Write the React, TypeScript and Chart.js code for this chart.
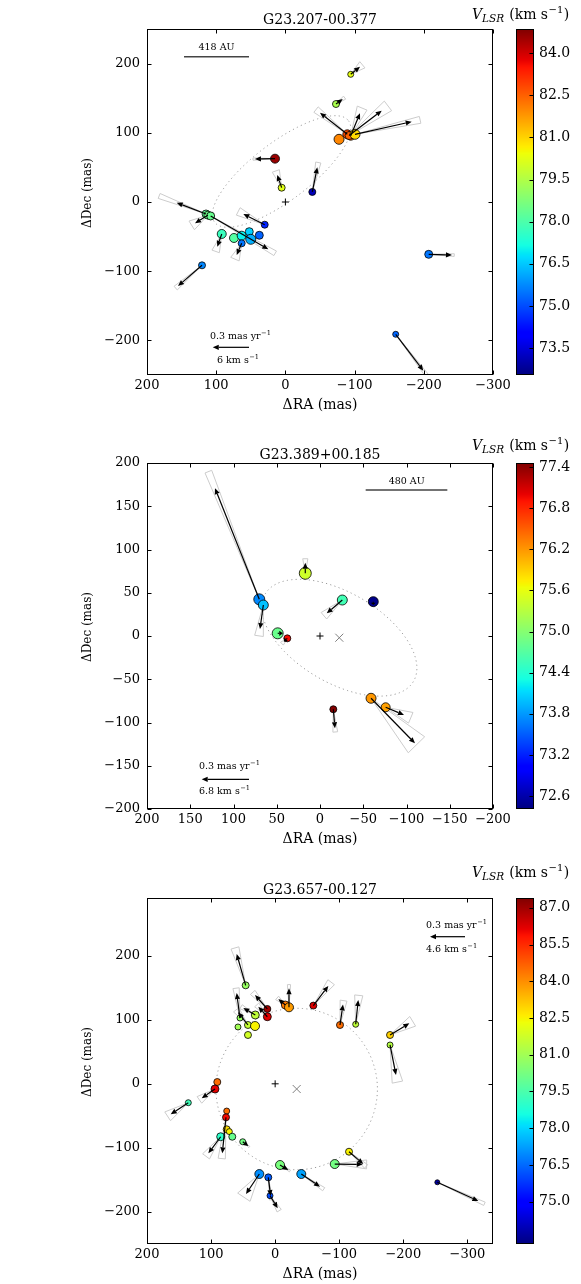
import React, { useEffect, useRef } from "react";
import { Chart, registerables } from "chart.js";
Chart.register(...registerables);

const SERIF = "'DejaVu Serif', 'Liberation Serif', serif";

// ---------------- Panel 1: G23.207-00.377 ----------------
const p1Title = "G23.207-00.377";
const p1XRange = [-300, 200];
const p1YRange = [-250, 250];
const p1XTicks = [200, 100, 0, -100, -200, -300];
const p1YTicks = [200, 100, 0, -100, -200];
const p1CbRange = [72.54, 84.86];
const p1CbTicks = [73.5, 75.0, 76.5, 78.0, 79.5, 81.0, 82.5, 84.0];
const p1X = [-94.4, -73.1, -77.5, -89.5, -94.4, -92, -100.6, 15, 5.4, -38.9, 29.9, 114.7, 112, 108, 92, 74.3, 63.2, 52.2, 50.1, 63.2, 37.7, 120.5, -207.1, -159.4];
const p1Y = [184.5, 141.6, 90.6, 97.8, 95.8, 96, 97.8, 62.6, 20.7, 14.5, -32.8, -17.3, -19, -20.2, -46.2, -52, -48.7, -42.9, -53.9, -59.7, -48.1, -91.5, -75.6, -191.2];
const p1V = [80.3, 79.4, 82.0, 82.8, 82.15, 82.5, 80.9, 84.6, 80.2, 73.15, 74.5, 78.3, 78.5, 78.4, 77.7, 78.1, 77.0, 76.6, 76.2, 75.5, 75.25, 75.7, 75.5, 75.3];
const p1R = [3, 3.5, 5, 4.5, 4.5, 4, 5, 4.5, 3.5, 3.5, 3.5, 4, 4, 4, 4.5, 4.5, 4.5, 4, 5, 3.5, 4, 3.5, 4, 3];
const p1Dx = [-13.4, -9.7, 0, 39.5, -13.4, -47.2, -81.9, 29, 6.4, -7.2, 30.9, 42.4, 18.6, -83.3, 6.4, 0, 0, 0, 0, 7.2, 0, 34.7, -33.6, -39.9];
const p1Dy = [11, 7.2, 0, 31.2, 32.4, 36, 18.2, -0.5, 18.3, 35.6, 15.5, 16.3, -11.8, -48.2, -18.4, 0, 0, 0, 0, -16.9, 0, -30, -1, -52.6];
const p1Cone = [15, 10, 0, 5, 10, 7, 3, 3, 12, 5, 8, 3, 15, 2, 12, 0, 0, 0, 0, 15, 0, 4, 3, 2];
const p1ConeK = [1.3, 1.3, 1, 1.15, 1.25, 1.2, 1.15, 1.1, 1.35, 1.2, 1.25, 1.6, 1.3, 1.12, 1.4, 1, 1, 1, 1, 1.4, 1, 1.1, 1.1, 1.15];
const p1Ellipse = [5.6, 44.1, 121.4, 41.9, 142.8];
const p1MarkX = [0];
const p1MarkY = [0];
const p1MarkType = ["+"];
const p1Bar = [146.5, 52.6, 210];
const p1BarLabel = "418 AU";
const p1BarLabelPos = [99.5, 219];
const p1PmArrow = [52.6, 105, -210];
const p1PmText1 = [109, -198];
const p1PmText2 = [98.8, -232.6];
const p1PmLabel1 = "0.3 mas yr";
const p1PmLabel2 = "6 km s";

// ---------------- Panel 2: G23.389+00.185 ----------------
const p2Title = "G23.389+00.185";
const p2XRange = [-200, 200];
const p2YRange = [-200, 200];
const p2XTicks = [200, 150, 100, 50, 0, -50, -100, -150, -200];
const p2YTicks = [200, 150, 100, 50, 0, -50, -100, -150, -200];
const p2CbRange = [72.41, 77.46];
const p2CbTicks = [72.6, 73.2, 73.8, 74.4, 75.0, 75.6, 76.2, 76.8, 77.4];
const p2X = [70.2, 65.5, 17, -25.8, -61.6, 48.9, 37.8, -59, -75.9, -15.4];
const p2Y = [42.4, 35.8, 72.5, 41.6, 39.7, 3.1, -2.7, -72, -82.4, -84.7];
const p2V = [73.72, 74.0, 75.44, 74.58, 72.45, 74.83, 76.95, 76.2, 76.15, 77.45];
const p2R = [5.5, 5, 6, 5, 5, 5.5, 3.5, 5, 4.5, 3.5];
const p2Dx = [51.2, 3.9, 0, 18, 0, -6, 4, -50.8, -21.2, -1.9];
const p2Dy = [128.4, -27.7, 12.2, -15.4, -4, 0, -4, -52, -8.9, -22];
const p2Cone = [1.5, 8, 10, 10, 0, 0, 15, 10, 12, 6];
const p2ConeK = [1.15, 1.3, 1.4, 1.2, 1, 1, 1.6, 1.05, 1.4, 1.2];
const p2Ellipse = [-22.3, -2, 99.5, 52, 30.5];
const p2MarkX = [0, -22.3];
const p2MarkY = [0, -2];
const p2MarkType = ["+", "x"];
const p2Bar = [-52.8, -147.2, 168.8];
const p2BarLabel = "480 AU";
const p2BarLabelPos = [-100.2, 175.7];
const p2PmArrow = [82.1, 136.8, -165.7];
const p2PmText1 = [139.9, -154.3];
const p2PmText2 = [139.9, -183.2];
const p2PmLabel1 = "0.3 mas yr";
const p2PmLabel2 = "6.8 km s";

// ---------------- Panel 3: G23.657-00.127 ----------------
const p3Title = "G23.657-00.127";
const p3XRange = [-340, 200];
const p3YRange = [-250, 290];
const p3XTicks = [200, 100, 0, -100, -200, -300];
const p3YTicks = [200, 100, 0, -100, -200];
const p3CbRange = [73.27, 87.4];
const p3CbTicks = [75.0, 76.5, 78.0, 79.5, 81.0, 82.5, 84.0, 85.5, 87.0];
const p3X = [46, 12.2, 12.2, 31, -15.9, -21.6, -59.6, -101.2, -125.7, -179.3, -179.3, 54.9, 58, 42.4, 31.4, 42.4, 90.3, 93.9, 135.5, 75.6, 76.7, 75.6, 71.5, 85, 66.9, 50.6, -7.6, 24.7, 10.7, 8, -40.8, -93, -115.3, -253.1];
const p3Y = [153.7, 116.8, 104.7, 107.4, 123, 119.4, 122.1, 91.8, 92.9, 76.2, 60.6, 102.7, 88.7, 91.8, 90.2, 76.2, 2.8, -8.1, -29.5, -42.5, -52.3, -71, -74.6, -82.6, -82.6, -90.4, -126.7, -140.8, -146, -174.6, -140.8, -125.2, -106, -153.7];
const p3V = [80.8, 87.0, 86.2, 81.5, 84.3, 83.8, 86.3, 84.5, 81.5, 83.0, 81.3, 80.8, 81.0, 81.6, 82.5, 81.8, 84.5, 86.2, 79.3, 84.5, 86.0, 82.8, 82.5, 79.0, 80.0, 80.2, 80.3, 77.0, 76.3, 76.1, 77.3, 80.2, 82.5, 73.6];
const p3R = [3.5, 3.5, 4, 4, 4, 4.5, 3.5, 3.5, 3, 3.5, 3, 3, 3, 3.5, 4.5, 3.5, 3.5, 4, 3, 3, 3.5, 3.5, 3, 4, 3.5, 3, 4.5, 4.5, 3.5, 3, 4.5, 4.5, 3.5, 2.5];
const p3Dx = [14, 19.2, 14, 18.7, 10.9, 0, -23.4, -4.7, -4, -30.1, -9.3, 5.1, 0, 15.6, 0, 0, 0, 20.7, 27.5, 0, 5.8, 0, 0, 19.3, 0, -8.7, -13, 20.8, -3.7, -12, -29.2, -43.7, -22.3, -64];
const p3Dy = [48.9, 21.8, 15.6, 10.9, 9.4, 29.6, 30.7, 32, 38, 18.2, -46.8, 39, 0, 20, 0, 0, 0, -14.5, -18.1, 0, -56.2, 0, 0, -25.9, 0, -6.8, -7.8, -31.2, -29.2, -19.7, -19.8, -0.5, -19.2, -29.2];
const p3Cone = [6, 8, 10, 8, 12, 4, 8, 8, 8, 12, 8, 6, 0, 10, 0, 0, 0, 12, 12, 0, 5, 0, 0, 10, 0, 5, 5, 15, 4, 8, 4, 8, 6, 2];
const p3ConeK = [1.2, 1.2, 1.2, 1.2, 1.2, 1.2, 1.2, 1.2, 1.2, 1.2, 1.25, 1.2, 1, 1.2, 1, 1, 1, 1.2, 1.2, 1, 1.15, 1, 1, 1.2, 1, 1.2, 1.2, 1.2, 1.2, 1.2, 1.2, 1.15, 1.2, 1.15];
const p3Ellipse = [-33.6, -8.1, 126, 126, 0];
const p3MarkX = [0, -33.6];
const p3MarkY = [0, -8.1];
const p3MarkType = ["+", "x"];
const p3PmArrow = [-296.3, -241.7, 229.6];
const p3PmText1 = [-235.5, 243.6];
const p3PmText2 = [-235.5, 206.2];
const p3PmLabel1 = "0.3 mas yr";
const p3PmLabel2 = "4.6 km s";

// ---------------- helpers ----------------
const JR = [[0, 0], [0.35, 0], [0.66, 1], [0.89, 1], [1, 0.5]];
const JG = [[0, 0], [0.125, 0], [0.375, 1], [0.64, 1], [0.91, 0], [1, 0]];
const JB = [[0, 0.5], [0.11, 1], [0.34, 1], [0.65, 0], [1, 0]];
function seg(pts: number[][], t: number) {
  for (let i = 0; i < pts.length - 1; i++) {
    const [a, va] = pts[i];
    const [b, vb] = pts[i + 1];
    if (t <= b) return va + ((t - a) / (b - a)) * (vb - va);
  }
  return pts[pts.length - 1][1];
}
function jet(t: number) {
  const c = Math.max(0, Math.min(1, t));
  const r = Math.round(255 * seg(JR, c));
  const g = Math.round(255 * seg(JG, c));
  const b = Math.round(255 * seg(JB, c));
  return `rgb(${r},${g},${b})`;
}
const fmtInt = (v: number) => (v < 0 ? "\u2212" + Math.abs(v) : String(v));

function drawArrow(ctx: CanvasRenderingContext2D, x0: number, y0: number, x1: number, y1: number) {
  const dx = x1 - x0, dy = y1 - y0;
  const L = Math.hypot(dx, dy);
  if (L < 0.5) return;
  const ux = dx / L, uy = dy / L;
  const hl = Math.min(6, L * 0.7);
  const hw = 2.6;
  const bx = x1 - ux * hl, by = y1 - uy * hl;
  ctx.beginPath();
  ctx.moveTo(x0, y0);
  ctx.lineTo(bx, by);
  ctx.stroke();
  ctx.beginPath();
  ctx.moveTo(x1, y1);
  ctx.lineTo(bx - uy * hw, by + ux * hw);
  ctx.lineTo(bx + uy * hw, by - ux * hw);
  ctx.closePath();
  ctx.fill();
}

function supText(ctx: CanvasRenderingContext2D, base: string, sup: string, x: number, y: number, size: number) {
  ctx.textAlign = "left";
  ctx.textBaseline = "alphabetic";
  ctx.font = `${size}px ${SERIF}`;
  ctx.fillText(base, x, y);
  const w = ctx.measureText(base).width;
  ctx.font = `${size * 0.7}px ${SERIF}`;
  ctx.fillText(sup, x + w + 0.5, y - size * 0.42);
}

type PanelCfg = {
  title: string; xRange: number[]; yRange: number[]; xTicks: number[]; yTicks: number[];
  cbRange: number[]; cbTicks: number[];
  X: number[]; Y: number[]; V: number[]; R: number[]; Dx: number[]; Dy: number[]; Cone: number[]; ConeK: number[];
  ellipse: number[]; markX: number[]; markY: number[]; markType: string[];
  bar: number[] | null; barLabel: string; barLabelPos: number[];
  pmArrow: number[]; pmText1: number[]; pmText2: number[]; pmLabel1: string; pmLabel2: string;
  vlsrY: number; titleY: number; canvasH: number; top: number; plotTop: number;
};

const panels: PanelCfg[] = [
  {
    title: p1Title, xRange: p1XRange, yRange: p1YRange, xTicks: p1XTicks, yTicks: p1YTicks,
    cbRange: p1CbRange, cbTicks: p1CbTicks, X: p1X, Y: p1Y, V: p1V, R: p1R, Dx: p1Dx, Dy: p1Dy,
    Cone: p1Cone, ConeK: p1ConeK, ellipse: p1Ellipse, markX: p1MarkX, markY: p1MarkY, markType: p1MarkType,
    bar: p1Bar, barLabel: p1BarLabel, barLabelPos: p1BarLabelPos, pmArrow: p1PmArrow, pmText1: p1PmText1,
    pmText2: p1PmText2, pmLabel1: p1PmLabel1, pmLabel2: p1PmLabel2,
    vlsrY: 19, titleY: 24, canvasH: 430, top: 0, plotTop: 29,
  },
  {
    title: p2Title, xRange: p2XRange, yRange: p2YRange, xTicks: p2XTicks, yTicks: p2YTicks,
    cbRange: p2CbRange, cbTicks: p2CbTicks, X: p2X, Y: p2Y, V: p2V, R: p2R, Dx: p2Dx, Dy: p2Dy,
    Cone: p2Cone, ConeK: p2ConeK, ellipse: p2Ellipse, markX: p2MarkX, markY: p2MarkY, markType: p2MarkType,
    bar: p2Bar, barLabel: p2BarLabel, barLabelPos: p2BarLabelPos, pmArrow: p2PmArrow, pmText1: p2PmText1,
    pmText2: p2PmText2, pmLabel1: p2PmLabel1, pmLabel2: p2PmLabel2,
    vlsrY: 20, titleY: 29, canvasH: 430, top: 430, plotTop: 33,
  },
  {
    title: p3Title, xRange: p3XRange, yRange: p3YRange, xTicks: p3XTicks, yTicks: p3YTicks,
    cbRange: p3CbRange, cbTicks: p3CbTicks, X: p3X, Y: p3Y, V: p3V, R: p3R, Dx: p3Dx, Dy: p3Dy,
    Cone: p3Cone, ConeK: p3ConeK, ellipse: p3Ellipse, markX: p3MarkX, markY: p3MarkY, markType: p3MarkType,
    bar: null, barLabel: "", barLabelPos: [0, 0], pmArrow: p3PmArrow, pmText1: p3PmText1,
    pmText2: p3PmText2, pmLabel1: p3PmLabel1, pmLabel2: p3PmLabel2,
    vlsrY: 17, titleY: 34, canvasH: 424, top: 860, plotTop: 38,
  },
];

function makePlugin(cfg: PanelCfg) {
  const norm = (v: number) => (v - cfg.cbRange[0]) / (cfg.cbRange[1] - cfg.cbRange[0]);
  return {
    id: "maserDecor",
    beforeDatasetsDraw(chart: any) {
      const { ctx, chartArea: ca } = chart;
      const xs = chart.scales.x, ys = chart.scales.y;
      const px = (v: number) => xs.getPixelForValue(v);
      const py = (v: number) => ys.getPixelForValue(v);
      ctx.save();
      ctx.beginPath();
      ctx.rect(ca.left, ca.top, ca.right - ca.left, ca.bottom - ca.top);
      ctx.clip();
      // fitted ellipse
      const [cx, cy, a, b, th] = cfg.ellipse;
      const t0 = (th * Math.PI) / 180;
      const ux = Math.cos(t0), uy = Math.sin(t0), wx = -Math.sin(t0), wy = Math.cos(t0);
      ctx.strokeStyle = "#9a9a9a";
      ctx.lineWidth = 1;
      ctx.setLineDash([1.2, 3.2]);
      ctx.beginPath();
      for (let k = 0; k <= 360; k++) {
        const t = (k * Math.PI) / 180;
        const X = cx + a * Math.cos(t) * ux + b * Math.sin(t) * wx;
        const Y = cy + a * Math.cos(t) * uy + b * Math.sin(t) * wy;
        if (k === 0) ctx.moveTo(px(X), py(Y));
        else ctx.lineTo(px(X), py(Y));
      }
      ctx.stroke();
      ctx.setLineDash([]);
      // uncertainty cones
      ctx.strokeStyle = "#cccccc";
      ctx.lineWidth = 1;
      for (let i = 0; i < cfg.X.length; i++) {
        if (!cfg.Cone[i] || (!cfg.Dx[i] && !cfg.Dy[i])) continue;
        const x0 = px(cfg.X[i]), y0 = py(cfg.Y[i]);
        const ex = px(cfg.X[i] + cfg.Dx[i]) - x0, ey = py(cfg.Y[i] + cfg.Dy[i]) - y0;
        const k = cfg.ConeK[i];
        const ang = (cfg.Cone[i] * Math.PI) / 180;
        const rot = (s: number) => [
          x0 + k * (ex * Math.cos(s) - ey * Math.sin(s)),
          y0 + k * (ex * Math.sin(s) + ey * Math.cos(s)),
        ];
        const [ax, ay] = rot(ang);
        const [bx, by] = rot(-ang);
        ctx.beginPath();
        ctx.moveTo(x0, y0);
        ctx.lineTo(ax, ay);
        ctx.lineTo(bx, by);
        ctx.closePath();
        ctx.stroke();
      }
      // reference markers
      for (let i = 0; i < cfg.markX.length; i++) {
        const mx = px(cfg.markX[i]), my = py(cfg.markY[i]);
        ctx.lineWidth = 1;
        ctx.beginPath();
        if (cfg.markType[i] === "+") {
          ctx.strokeStyle = "#000";
          ctx.moveTo(mx - 3.5, my);
          ctx.lineTo(mx + 3.5, my);
          ctx.moveTo(mx, my - 3.5);
          ctx.lineTo(mx, my + 3.5);
        } else {
          ctx.strokeStyle = "#808080";
          ctx.moveTo(mx - 4, my - 4);
          ctx.lineTo(mx + 4, my + 4);
          ctx.moveTo(mx - 4, my + 4);
          ctx.lineTo(mx + 4, my - 4);
        }
        ctx.stroke();
      }
      ctx.restore();
    },
    afterDatasetsDraw(chart: any) {
      const { ctx, chartArea: ca } = chart;
      const xs = chart.scales.x, ys = chart.scales.y, cb = chart.scales.cb;
      const px = (v: number) => xs.getPixelForValue(v);
      const py = (v: number) => ys.getPixelForValue(v);
      ctx.save();
      ctx.beginPath();
      ctx.rect(ca.left, ca.top, ca.right - ca.left, ca.bottom - ca.top);
      ctx.clip();
      // proper motion arrows
      ctx.strokeStyle = "#000";
      ctx.fillStyle = "#000";
      ctx.lineWidth = 1.2;
      for (let i = 0; i < cfg.X.length; i++) {
        if (!cfg.Dx[i] && !cfg.Dy[i]) continue;
        drawArrow(ctx, px(cfg.X[i]), py(cfg.Y[i]), px(cfg.X[i] + cfg.Dx[i]), py(cfg.Y[i] + cfg.Dy[i]));
      }
      // reference arrow
      const [ax0, ax1, ay] = cfg.pmArrow;
      drawArrow(ctx, px(ax0), py(ay), px(ax1), py(ay));
      ctx.fillStyle = "#000";
      supText(ctx, cfg.pmLabel1, "\u22121", px(cfg.pmText1[0]), py(cfg.pmText1[1]), 9.5);
      supText(ctx, cfg.pmLabel2, "\u22121", px(cfg.pmText2[0]), py(cfg.pmText2[1]), 9.5);
      // scale bar
      if (cfg.bar) {
        ctx.strokeStyle = "#444";
        ctx.lineWidth = 1.5;
        ctx.beginPath();
        ctx.moveTo(px(cfg.bar[0]), py(cfg.bar[2]));
        ctx.lineTo(px(cfg.bar[1]), py(cfg.bar[2]));
        ctx.stroke();
        ctx.fillStyle = "#000";
        ctx.font = `9.5px ${SERIF}`;
        ctx.textAlign = "center";
        ctx.textBaseline = "alphabetic";
        ctx.fillText(cfg.barLabel, px(cfg.barLabelPos[0]), py(cfg.barLabelPos[1]));
      }
      ctx.restore();

      ctx.save();
      // frame
      ctx.strokeStyle = "#000";
      ctx.lineWidth = 1;
      const L = Math.round(ca.left) + 0.5, R = Math.round(ca.right) - 0.5;
      const T = Math.round(ca.top) + 0.5, B = Math.round(ca.bottom) - 0.5;
      ctx.strokeRect(L, T, R - L, B - T);
      ctx.beginPath();
      for (const v of cfg.xTicks) {
        const x = Math.round(px(v)) + 0.5;
        ctx.moveTo(x, B); ctx.lineTo(x, B - 4);
        ctx.moveTo(x, T); ctx.lineTo(x, T + 4);
      }
      for (const v of cfg.yTicks) {
        const y = Math.round(py(v)) + 0.5;
        ctx.moveTo(L, y); ctx.lineTo(L + 4, y);
        ctx.moveTo(R, y); ctx.lineTo(R - 4, y);
      }
      ctx.stroke();
      // colorbar
      const bx0 = Math.round(cb.left) + 23, bx1 = bx0 + 18;
      for (let yy = Math.round(cb.top); yy < Math.round(cb.bottom); yy++) {
        const v = cb.getValueForPixel(yy + 0.5);
        ctx.fillStyle = jet(norm(v));
        ctx.fillRect(bx0, yy, bx1 - bx0, 1);
      }
      ctx.strokeStyle = "#000";
      ctx.strokeRect(bx0 + 0.5, Math.round(cb.top) + 0.5, bx1 - bx0 - 1, Math.round(cb.bottom) - Math.round(cb.top) - 1);
      ctx.beginPath();
      for (const v of cfg.cbTicks) {
        const y = Math.round(cb.getPixelForValue(v)) + 0.5;
        ctx.moveTo(bx1 - 0.5, y);
        ctx.lineTo(bx1 - 4.5, y);
      }
      ctx.stroke();
      // title
      ctx.fillStyle = "#000";
      ctx.font = `14px ${SERIF}`;
      ctx.textAlign = "center";
      ctx.textBaseline = "alphabetic";
      ctx.fillText(cfg.title, (ca.left + ca.right) / 2, cfg.titleY);
      // y-axis label
      ctx.save();
      ctx.translate(88, (ca.top + ca.bottom) / 2 - 9);
      ctx.rotate(-Math.PI / 2);
      ctx.font = `12px ${SERIF}`;
      ctx.textAlign = "center";
      ctx.textBaseline = "middle";
      ctx.fillText("\u0394Dec (mas)", 0, 0);
      ctx.restore();
      // colorbar label: V_LSR (km s^-1)
      let x = 472;
      const y = cfg.vlsrY;
      ctx.textAlign = "left";
      ctx.textBaseline = "alphabetic";
      ctx.font = `italic 14px ${SERIF}`;
      ctx.fillText("V", x, y);
      x += ctx.measureText("V").width;
      ctx.font = `italic 10.5px ${SERIF}`;
      ctx.fillText("LSR", x, y + 3);
      x += ctx.measureText("LSR").width + 5;
      ctx.font = `14px ${SERIF}`;
      ctx.fillText("(km s", x, y);
      x += ctx.measureText("(km s").width + 0.5;
      ctx.font = `10px ${SERIF}`;
      ctx.fillText("\u22121", x, y - 6);
      x += ctx.measureText("\u22121").width + 0.5;
      ctx.font = `14px ${SERIF}`;
      ctx.fillText(")", x, y);
      ctx.restore();
    },
  };
}

function buildConfig(cfg: PanelCfg): any {
  const norm = (v: number) => (v - cfg.cbRange[0]) / (cfg.cbRange[1] - cfg.cbRange[0]);
  const tickFont = { family: SERIF, size: 13 };
  const titleFont = { family: SERIF, size: 14 };
  return {
    type: "scatter",
    data: {
      datasets: [
        {
          data: cfg.X.map((x, i) => ({ x, y: cfg.Y[i] })),
          yAxisID: "y",
          xAxisID: "x",
          pointRadius: cfg.R,
          pointHoverRadius: cfg.R,
          pointBackgroundColor: cfg.V.map((v) => jet(norm(v))),
          pointBorderColor: "#000",
          pointBorderWidth: 0.8,
          pointHoverBorderWidth: 0.8,
          showLine: false,
        },
      ],
    },
    options: {
      animation: false,
      responsive: false,
      maintainAspectRatio: false,
      devicePixelRatio: 1,
      events: [],
      layout: { padding: { left: 0, right: 0, top: cfg.plotTop, bottom: cfg.canvasH - cfg.plotTop - 346 - 40 } },
      plugins: { legend: { display: false }, tooltip: { enabled: false }, title: { display: false } },
      scales: {
        x: {
          type: "linear",
          position: "bottom",
          reverse: true,
          min: cfg.xRange[0],
          max: cfg.xRange[1],
          afterBuildTicks: (s: any) => { s.ticks = cfg.xTicks.map((v) => ({ value: v })); },
          afterFit: (s: any) => { s.height = 40; },
          grid: { display: false, drawTicks: false },
          border: { display: false },
          ticks: { padding: 3, font: tickFont, color: "#000", maxRotation: 0, autoSkip: false, callback: (v: number) => fmtInt(v) },
          title: { display: true, text: "\u0394RA (mas)", font: titleFont, color: "#000", padding: { top: 0, bottom: 1.6 } },
        },
        y: {
          type: "linear",
          position: "left",
          min: cfg.yRange[0],
          max: cfg.yRange[1],
          afterBuildTicks: (s: any) => { s.ticks = cfg.yTicks.map((v) => ({ value: v })); },
          afterFit: (s: any) => { s.width = 147; },
          grid: { display: false, drawTicks: false },
          border: { display: false },
          ticks: { padding: 7, font: tickFont, color: "#000", autoSkip: false, callback: (v: number) => fmtInt(v) },
          title: { display: false },
        },
        cb: {
          type: "linear",
          position: "right",
          min: cfg.cbRange[0],
          max: cfg.cbRange[1],
          afterBuildTicks: (s: any) => { s.ticks = cfg.cbTicks.map((v) => ({ value: v })); },
          afterFit: (s: any) => { s.width = 88; },
          grid: { display: false, drawTicks: true, tickLength: 44 },
          border: { display: false },
          ticks: { padding: 2, font: { family: SERIF, size: 14 }, color: "#000", autoSkip: false, callback: (v: number) => v.toFixed(1) },
        },
      },
    },
    plugins: [makePlugin(cfg)],
  };
}

function PanelChart({ cfg }: { cfg: PanelCfg }) {
  const ref = useRef<HTMLCanvasElement>(null);
  useEffect(() => {
    if (!ref.current) return;
    const chart = new Chart(ref.current, buildConfig(cfg));
    return () => chart.destroy();
  }, [cfg]);
  return (
    <canvas
      ref={ref}
      width={581}
      height={cfg.canvasH}
      style={{ position: "absolute", left: 0, top: cfg.top, width: 581, height: cfg.canvasH, display: "block" }}
    />
  );
}

export default function App() {
  return (
    <div style={{ position: "absolute", left: 0, top: 0, width: 581, height: 1284, background: "#fff", overflow: "hidden" }}>
      {panels.map((p) => (
        <PanelChart key={p.title} cfg={p} />
      ))}
    </div>
  );
}
